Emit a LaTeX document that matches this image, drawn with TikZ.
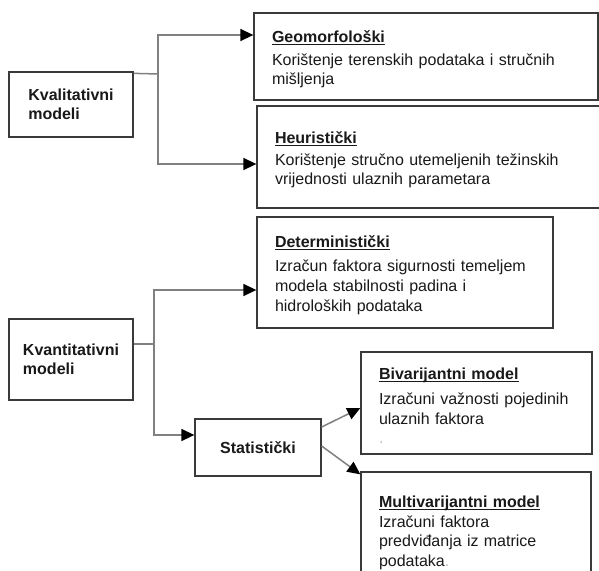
\documentclass[tikz,border=0pt]{standalone}
\usepackage{fontspec}
\setmainfont{Liberation Sans}
\usepackage{xcolor}
\usetikzlibrary{arrows.meta, positioning, calc}

\definecolor{boxline}{HTML}{3A3A3A}
\definecolor{linkgray}{HTML}{808080}

% bold heading with an underline at a fixed depth
\newlength{\hdwidth}
\newcommand{\headline}[1]{\rule{0pt}{17pt}\settowidth{\hdwidth}{\textbf{#1}}\textbf{#1}\hspace{-\hdwidth}\rule[-2.6pt]{\hdwidth}{1.1pt}}

\begin{document}
\begin{tikzpicture}[
  x=1pt, y=-1pt,
  box/.style={draw=boxline, line width=1.3pt, inner xsep=18pt, inner ysep=0pt, align=left, text=black!90,
    font=\fontsize{16}{18.5}\selectfont},
  catbox/.style={box, inner xsep=0pt, align=left, font=\fontsize{16}{19}\selectfont\bfseries},
  link/.style={draw=linkgray, line width=1.5pt},
  arr/.style={link, -{Triangle[length=13pt, width=12pt, color=black]}},
]
\path[use as bounding box, clip] (0,0) rectangle (599,570);
\fill[white] (0,0) rectangle (599,570);

% model groups (left side)
\node[catbox, minimum width=124pt, minimum height=65pt] (kval) at (71,104.5) {Kvalitativni\\modeli};
\node[catbox, minimum width=124pt, minimum height=81pt] (kvan) at (71,359.5) {Kvantitativni\\modeli};

% qualitative models
\node[box, text width=308pt, minimum height=87pt] (geo) at (426,56.5)
  {\headline{Geomorfološki}\\[5pt]Korištenje terenskih podataka i stručnih\\mišljenja};
\node[box, text width=309pt, minimum height=102pt] (heu) at (429.5,157)
  {\headline{Heuristički}\\[4pt]Korištenje stručno utemeljenih težinskih\\vrijednosti ulaznih parametara};

% quantitative models
\node[box, text width=260pt, minimum height=111pt, font=\fontsize{16}{20}\selectfont] (det) at (405,272.5)
  {\headline{Deterministički}\\[4pt]Izračun faktora sigurnosti temeljem\\modela stabilnosti padina i\\hidroloških podataka};
\node[catbox, minimum width=126pt, minimum height=57pt] (stat) at (258,447.5) {Statistički};
\node[box, text width=195pt, minimum height=102pt, font=\fontsize{16}{19.5}\selectfont] (biv) at (476.5,403)
  {\headline{Bivarijantni model}\\[6pt]Izračuni važnosti pojedinih\\ulaznih faktora\\\textcolor{gray!50}{.}};
\node[box, text width=194pt, minimum height=116pt, font=\fontsize{16}{19.5}\selectfont] (mul) at (476,530)
  {\headline{Multivarijantni model}\\[0pt]Izračuni faktora\\predviđanja iz matrice\\podataka\textcolor{gray!50}{.}};

% forks
\coordinate (kvalfork) at (158,74);
\coordinate (kvanfork) at (154,344);

\draw[link] ([yshift=-2pt]kval.north east) -- (kvalfork);
\draw[arr] (kvalfork) |- ([yshift=21.5pt]geo.west);
\draw[arr] (kvalfork) |- ([yshift=-7pt]heu.west);

\draw[link] ([yshift=15.5pt]kvan.east) -- (kvanfork);
\draw[arr] (kvanfork) |- ([yshift=-17.5pt]det.west);
\draw[arr] (kvanfork) |- ([yshift=12.5pt]stat.west);

% statistical branches
\draw[arr] ([yshift=20.5pt]stat.east) -- ([yshift=-5pt]biv.west);
\draw[arr] ([yshift=1.5pt]stat.east) -- ([yshift=-3pt]mul.north west);

\end{tikzpicture}
\end{document}
